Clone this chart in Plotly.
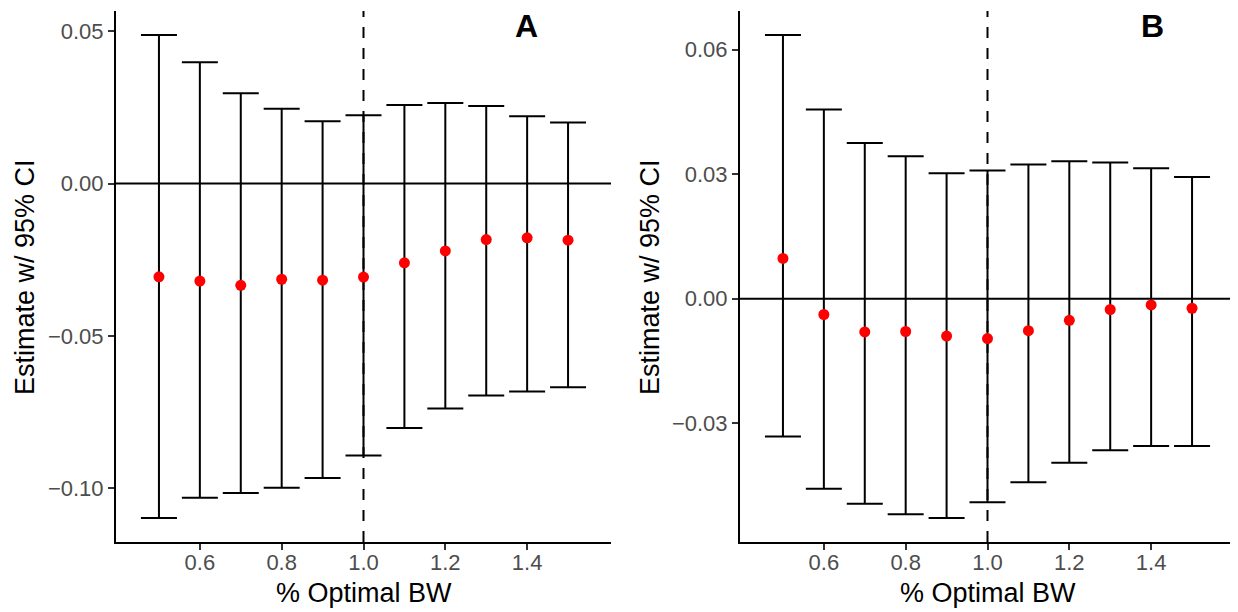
import plotly.graph_objects as go

# bandwidth as share of the optimal one
bw = [0.5, 0.6, 0.7, 0.8, 0.9, 1.0, 1.1, 1.2, 1.3, 1.4, 1.5]

# panel A estimates and 95% CI
est_a = [-0.0306, -0.0320, -0.0334, -0.0314, -0.0317, -0.0307, -0.0260, -0.0221, -0.0184, -0.0178, -0.0186]
hi_a = [0.0487, 0.0398, 0.0296, 0.0245, 0.0204, 0.0224, 0.0258, 0.0264, 0.0254, 0.0221, 0.0200]
lo_a = [-0.1097, -0.1031, -0.1015, -0.0998, -0.0966, -0.0892, -0.0802, -0.0738, -0.0695, -0.0682, -0.0668]

# panel B estimates and 95% CI
est_b = [0.0097, -0.0038, -0.0080, -0.0079, -0.0090, -0.0096, -0.0077, -0.0052, -0.0026, -0.0015, -0.0023]
hi_b = [0.0635, 0.0456, 0.0375, 0.0343, 0.0302, 0.0309, 0.0323, 0.0331, 0.0328, 0.0314, 0.0293]
lo_b = [-0.0332, -0.0458, -0.0494, -0.0519, -0.0528, -0.0490, -0.0442, -0.0395, -0.0365, -0.0355, -0.0355]

x_ticks = [0.6, 0.8, 1.0, 1.2, 1.4]
y_ticks_a = [-0.10, -0.05, 0.00, 0.05]
y_ticks_b = [-0.03, 0.00, 0.03, 0.06]

# the page body has an 8px margin, so the figure is a bit smaller than the window
OFF = 8
W, H = 1238 - OFF, 612 - OFF
FONT = "Liberation Sans, Arial, sans-serif"


def px(x):
    return (x - OFF) / W


def py(y):
    return 1 - (y - OFF) / H


fig = go.Figure()


def add_panel(est, lo, hi, xa, ya):
    fig.add_trace(go.Scatter(
        x=bw, y=est, mode="markers", xaxis=xa, yaxis=ya,
        marker=dict(color="red", size=11),
        error_y=dict(type="data", symmetric=False,
                     array=[h - e for h, e in zip(hi, est)],
                     arrayminus=[e - l for e, l in zip(est, lo)],
                     color="black", thickness=2, width=18),
        showlegend=False, hoverinfo="skip"))


add_panel(est_a, lo_a, hi_a, "x", "y")
add_panel(est_b, lo_b, hi_b, "x2", "y2")

# screen-pixel boxes of the two plot areas
top, bottom = 11, 542
dom_y = [py(bottom), py(top)]
dom_a = [px(116), px(611)]
dom_b = [px(740), px(1235)]

axis_style = dict(showline=True, linecolor="black", linewidth=2, ticks="outside",
                  ticklen=6, tickwidth=1.5, tickcolor="#333333", showgrid=False,
                  zeroline=False, tickfont=dict(family=FONT, size=22, color="#4d4d4d"))

fig.update_layout(
    width=W, height=H, margin=dict(l=0, r=0, t=0, b=0),
    plot_bgcolor="white", paper_bgcolor="white",
    xaxis=dict(domain=dom_a, range=[0.395, 1.605], tickvals=x_ticks, ticklabelstandoff=-6,
               ticktext=["%.1f" % v for v in x_ticks], anchor="y", **axis_style),
    yaxis=dict(domain=dom_y, range=[-0.1176, 0.0566], tickvals=y_ticks_a,
               ticktext=["\u22120.10", "\u22120.05", "0.00", "0.05"], anchor="x", **axis_style),
    xaxis2=dict(domain=dom_b, range=[0.395, 1.605], tickvals=x_ticks, ticklabelstandoff=-6,
                ticktext=["%.1f" % v for v in x_ticks], anchor="y2", **axis_style),
    yaxis2=dict(domain=dom_y, range=[-0.0586, 0.0693], tickvals=y_ticks_b,
                ticktext=["\u22120.03", "0.00", "0.03", "0.06"], anchor="x2", **axis_style),
)

# zero line and optimal-bandwidth marker in both panels
for xr, yr in [("x", "y"), ("x2", "y2")]:
    fig.add_shape(type="line", xref=xr + " domain", yref=yr, x0=0, x1=1, y0=0, y1=0,
                  line=dict(color="black", width=2), layer="below")
    fig.add_shape(type="line", xref=xr, yref=yr + " domain", x0=1.0, x1=1.0, y0=0, y1=1,
                  line=dict(color="black", width=2, dash="11px,10px"), layer="below")

# axis titles and panel letters
title_font = dict(family=FONT, size=27, color="black")
for cx, letter, lx in [((116 + 611) / 2, "A", 526), ((740 + 1235) / 2, "B", 1152)]:
    fig.add_annotation(text="% Optimal BW", xref="paper", yref="paper",
                       x=px(cx), y=py(593), showarrow=False, font=title_font,
                       xanchor="center", yanchor="middle")
    fig.add_annotation(text="<b>%s</b>" % letter, xref="paper", yref="paper",
                       x=px(lx), y=py(26), showarrow=False,
                       font=dict(family=FONT, size=32, color="black"),
                       xanchor="center", yanchor="middle")

for tx in [25, 650]:
    fig.add_annotation(text="Estimate w/ 95% CI", xref="paper", yref="paper",
                       x=px(tx), y=py(277), showarrow=False, font=title_font,
                       textangle=-90, xanchor="center", yanchor="middle")

fig.write_html("out.html")
